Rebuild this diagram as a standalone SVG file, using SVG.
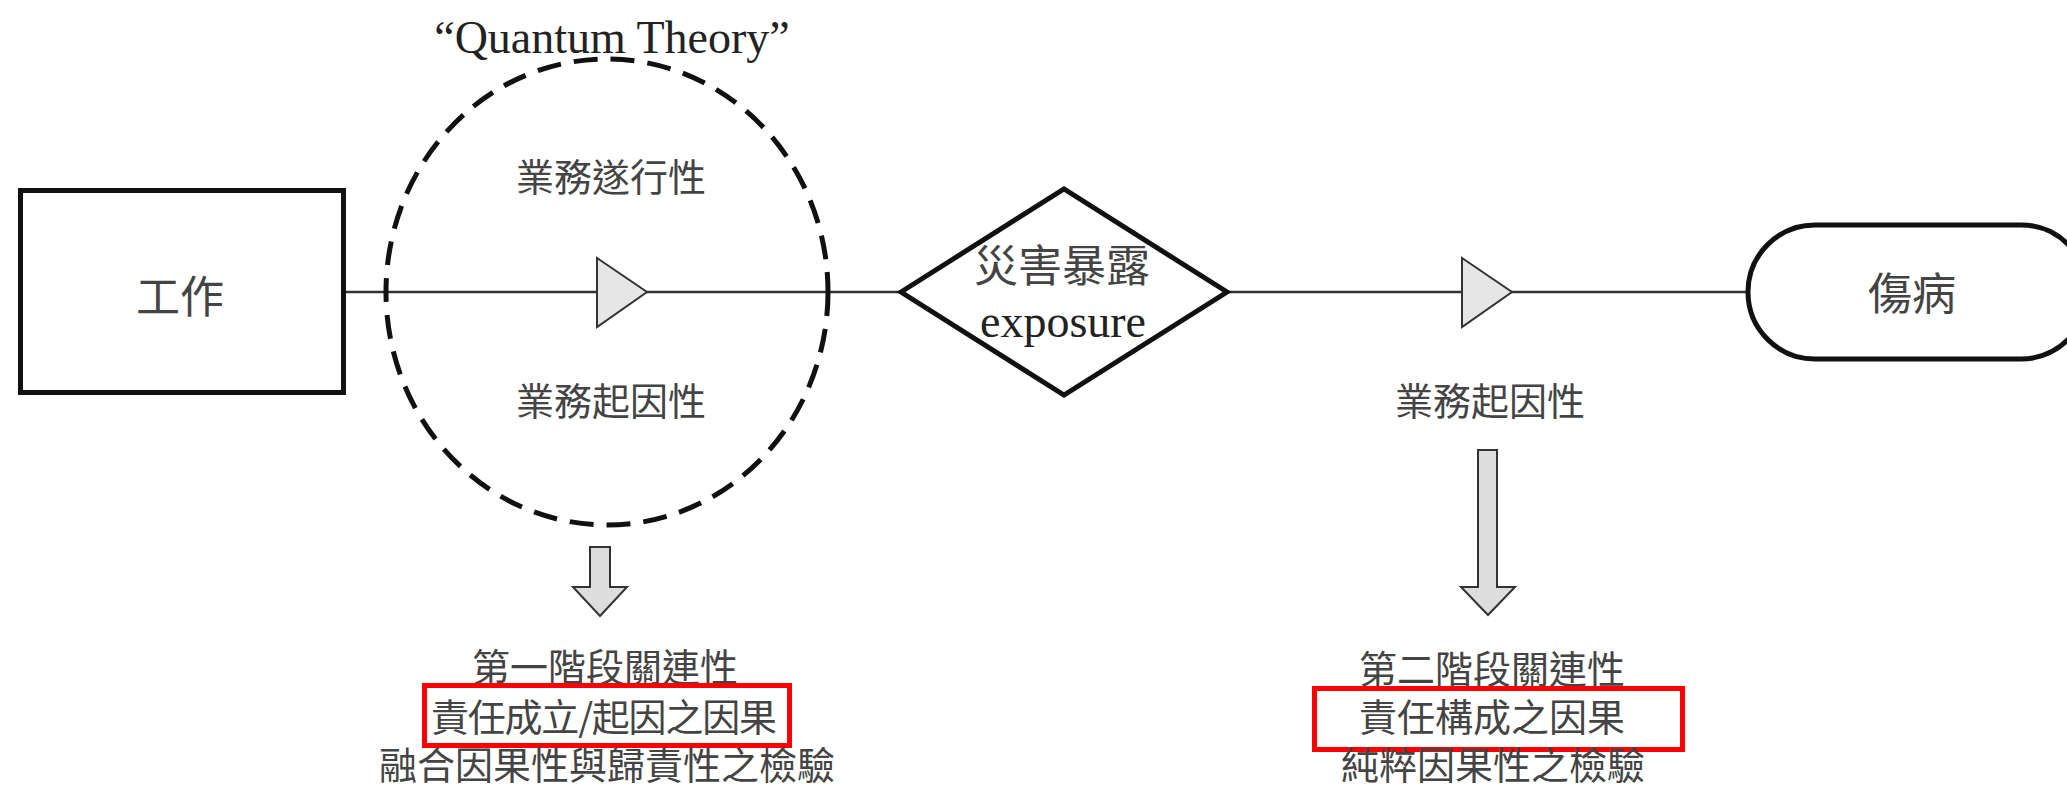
<svg xmlns="http://www.w3.org/2000/svg" width="2067" height="786" viewBox="0 0 2067 786">
<style>
.cjk{font-family:"Noto Sans CJK TC","Noto Sans CJK SC",sans-serif;fill:#444;text-anchor:middle}
.lat{font-family:"Liberation Serif",serif;fill:#222;text-anchor:middle}
.node{fill:#fff;stroke:#111;stroke-width:5}
.conn{fill:none;stroke:#333;stroke-width:2.5}
.down{fill:#ddd;stroke:#333;stroke-width:2;stroke-linejoin:miter}
.hl{fill:none;stroke:#f00;stroke-width:5}
</style>
<defs>
<marker id="tri" markerUnits="userSpaceOnUse" markerWidth="54" markerHeight="74" refX="52" refY="36" orient="auto" viewBox="0 0 54 74">
<polygon points="2,2 52,36 2,71" fill="#e6e6e6" stroke="#333" stroke-width="2"/>
</marker>
</defs>
<rect width="2067" height="786" fill="#fff"/>
<g id="connectors">
<path class="conn" d="M346,292 L647,292 L901,292" marker-mid="url(#tri)"/>
<path class="conn" d="M1227,292 L1512,292 L1748,292" marker-mid="url(#tri)"/>
</g>
<g id="quantum">
<ellipse cx="607" cy="292" rx="221" ry="233" fill="none" stroke="#111" stroke-width="5" stroke-dasharray="24 13"/>
<text class="lat" x="612" y="53" font-size="46">“Quantum Theory”</text>
<text class="cjk" x="611" y="191" font-size="38">業務遂行性</text>
<text class="cjk" x="611" y="415" font-size="38">業務起因性</text>
</g>
<g id="work">
<rect class="node" x="20.5" y="190.5" width="323" height="202"/>
<text class="cjk" x="180" y="313" font-size="44">工作</text>
</g>
<g id="exposure">
<polygon class="node" points="901,292 1064,189 1227,292 1064,395"/>
<text class="cjk" x="1062" y="282" font-size="44">災害暴露</text>
<text class="lat" x="1063" y="337" font-size="46">exposure</text>
</g>
<g id="injury">
<rect class="node" x="1748" y="225" width="340" height="134" rx="67" ry="67"/>
<text class="cjk" x="1912" y="310" font-size="44">傷病</text>
</g>
<g id="label-right">
<text class="cjk" x="1490" y="415" font-size="38">業務起因性</text>
</g>
<g id="stage1">
<polygon class="down" points="590,547 610,547 610,587 627,587 600,616 573,587 590,587"/>
<text class="cjk" x="605" y="681" font-size="38">第一階段關連性</text>
<rect class="hl" x="424.5" y="685.5" width="365" height="60"/>
<text class="cjk" x="604" y="731" font-size="38" textLength="346" lengthAdjust="spacing">責任成立/起因之因果</text>
<text class="cjk" x="607" y="779" font-size="38">融合因果性與歸責性之檢驗</text>
</g>
<g id="stage2">
<polygon class="down" points="1478,450 1497,450 1497,587 1515,587 1488,615 1461,587 1478,587"/>
<text class="cjk" x="1492" y="683" font-size="38">第二階段關連性</text>
<rect class="hl" x="1314.5" y="688.5" width="368" height="61"/>
<text class="cjk" x="1492" y="731" font-size="38">責任構成之因果</text>
<text class="cjk" x="1493" y="779" font-size="38">純粹因果性之檢驗</text>
</g>
</svg>
